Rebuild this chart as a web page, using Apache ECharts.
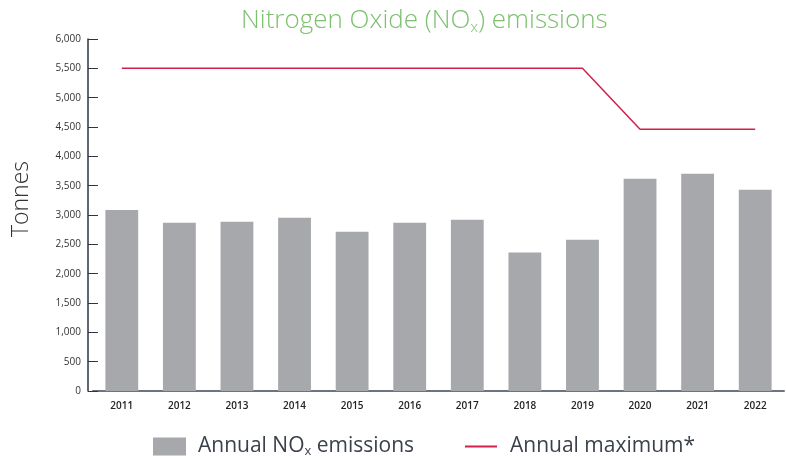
<!DOCTYPE html>
<html>
<head>
<meta charset="utf-8">
<script src="https://cdn.jsdelivr.net/npm/echarts@6/dist/echarts.min.js"></script>
<style>
  html, body { margin: 0; padding: 0; background: #fff; }
  #chart { width: 786px; height: 458px; }
</style>
</head>
<body>
<div id="chart"></div>
<script>
var years = ['2011', '2012', '2013', '2014', '2015', '2016', '2017', '2018', '2019', '2020', '2021', '2022'];
var noxEmissions = [3085, 2870, 2885, 2955, 2715, 2870, 2920, 2360, 2580, 3620, 3705, 3430];
var annualMaximum = [5500, 5500, 5500, 5500, 5500, 5500, 5500, 5500, 5500, 4460, 4460, 4460];

(function () {
    var myChart = echarts.init(document.getElementById('chart'));
    var font = '"Open Sans", Lato, sans-serif';
    var legendText = {
        color: '#3b414b',
        fontFamily: font,
        fontSize: 21,
        padding: [0, 0, 0, 7],
        rich: {
            sub: { color: '#3b414b', fontFamily: font, fontSize: 13, padding: [9, 0, 0, 0] }
        }
    };

    var option = {
        animation: false,
        title: {
            text: 'Nitrogen Oxide (NO{sub|x}) emissions',
            left: 236,
            top: 2,
            textStyle: {
                color: '#7cc070',
                fontFamily: font,
                fontSize: 26,
                fontWeight: 300,
                rich: {
                    sub: { color: '#7cc070', fontFamily: font, fontSize: 15, fontWeight: 300, padding: [13, 0, 0, 0] }
                }
            }
        },
        legend: [
            {
                top: 431,
                left: 148,
                icon: 'rect',
                itemWidth: 33,
                itemHeight: 18,
                textStyle: legendText,
                formatter: function () { return 'Annual NO{sub|x} emissions'; },
                data: ['Annual NOx emissions']
            },
            {
                top: 431,
                left: 460,
                icon: 'rect',
                itemWidth: 32,
                itemHeight: 2,
                textStyle: Object.assign({}, legendText, { padding: [0, 0, 0, 8] }),
                data: ['Annual maximum*']
            }
        ],
        grid: {
            left: 93,
            right: 2,
            top: 39,
            bottom: 67,
            outerBoundsMode: 'none'
        },
        xAxis: {
            type: 'category',
            data: years,
            axisTick: { show: false },
            axisLine: { lineStyle: { color: '#6b7480', width: 2 } },
            axisLabel: {
                color: '#222',
                fontFamily: font,
                fontSize: 10,
                fontWeight: 600,
                margin: 10
            }
        },
        yAxis: {
            type: 'value',
            min: 0,
            max: 6000,
            interval: 500,
            offset: 5,
            name: 'Tonnes',
            nameLocation: 'middle',
            nameGap: 55,
            nameTextStyle: { color: '#333', fontFamily: font, fontSize: 23, fontWeight: 300, padding: [0, 0, 0, 32] },
            axisLine: { show: true, lineStyle: { color: '#2b3440', width: 1.5 } },
            axisTick: { show: true, inside: true, length: 10, lineStyle: { color: '#2b3440' } },
            splitLine: { show: false },
            axisLabel: {
                color: '#333',
                fontFamily: font,
                fontSize: 10,
                margin: 7,
                formatter: function (v) { return v.toLocaleString('en-US'); }
            }
        },
        series: [
            {
                name: 'Annual NOx emissions',
                type: 'bar',
                data: noxEmissions,
                barWidth: '57%',
                itemStyle: { color: '#a7a8ab' }
            },
            {
                name: 'Annual maximum*',
                type: 'line',
                data: annualMaximum,
                symbol: 'none',
                lineStyle: { color: '#d3204a', width: 1.5 },
                itemStyle: { color: '#d3204a' }
            }
        ]
    };
    myChart.setOption(option);
    window.addEventListener('resize', function () {
        myChart.resize();
    });
})();
</script>
</body>
</html>
